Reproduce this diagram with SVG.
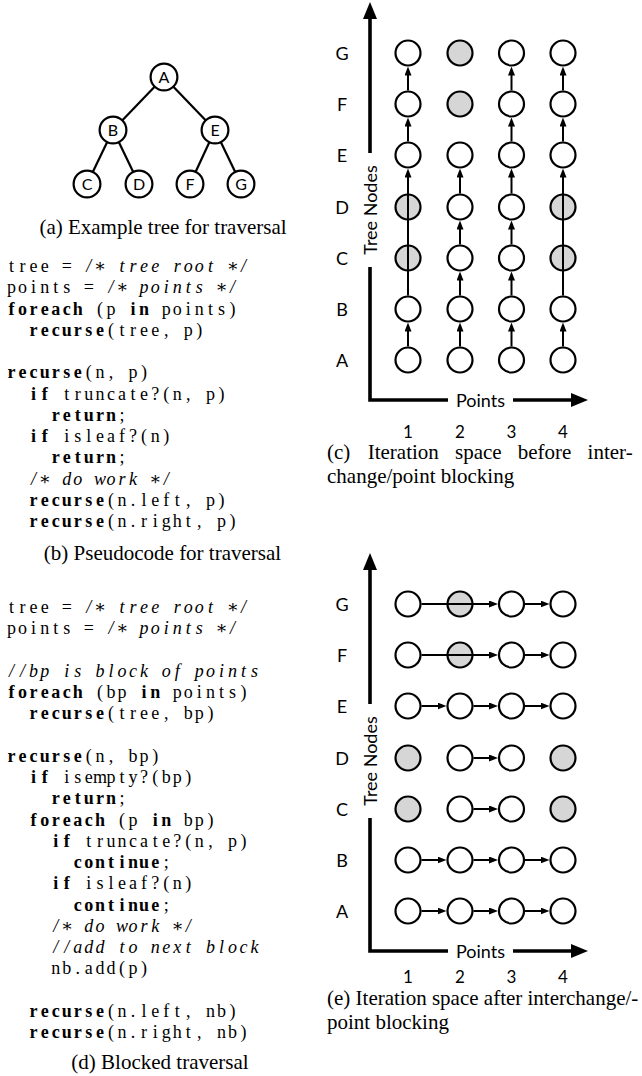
<svg xmlns="http://www.w3.org/2000/svg" width="642" height="1076" viewBox="0 0 642 1076">
<style>
.cap{font-family:"Liberation Serif","Times New Roman",serif;font-size:21px;fill:#000}
.mid{text-anchor:middle}
.code{font-family:"Liberation Serif","DejaVu Serif",serif;font-size:18px;fill:#000;text-anchor:middle}
.kw{font-weight:bold}
.cm{font-style:italic}
.lbl{font-family:Lato,"Liberation Sans",sans-serif;font-size:18px;fill:#000;text-anchor:middle}
.num{font-size:17px}
.tn circle{fill:#fff;stroke:#000;stroke-width:2.2}
.tn text{font-family:Lato,"Liberation Sans",sans-serif;font-size:16px;fill:#000;text-anchor:middle}
.pt{fill:#fff;stroke:#000;stroke-width:2.2}
.skip{fill:#d6d6d6}
.edge{stroke:#000;stroke-width:2.2}
.step{stroke:#000;stroke-width:2;fill:none;marker-end:url(#tip)}
.axis{stroke:#000;stroke-width:3.6;fill:none}
.axarrow{marker-end:url(#bigtip)}
</style>
<defs>
<marker id="tip" markerUnits="userSpaceOnUse" markerWidth="9" markerHeight="7" refX="5" refY="3.5" orient="auto">
<path d="M0,0 L9,3.5 L0,7 z" fill="#000"/>
</marker>
<marker id="bigtip" markerUnits="userSpaceOnUse" markerWidth="17" markerHeight="14" refX="11" refY="7" orient="auto">
<path d="M0,0 L17,7 L0,14 z" fill="#000"/>
</marker>
</defs>

<!-- (a) example tree -->
<g id="tree-edges">
<line class="edge" x1="164" y1="77" x2="113" y2="130"/>
<line class="edge" x1="164" y1="77" x2="215" y2="130"/>
<line class="edge" x1="113" y1="130" x2="87" y2="184"/>
<line class="edge" x1="113" y1="130" x2="139" y2="184"/>
<line class="edge" x1="215" y1="130" x2="190" y2="184"/>
<line class="edge" x1="215" y1="130" x2="241" y2="184"/>
</g>
<g id="tree-A" class="tn"><circle cx="164" cy="77" r="13.4"/><text x="164" y="82.5">A</text></g>
<g id="tree-B" class="tn"><circle cx="113" cy="130" r="13.4"/><text x="113" y="135.5">B</text></g>
<g id="tree-E" class="tn"><circle cx="215" cy="130" r="13.4"/><text x="215" y="135.5">E</text></g>
<g id="tree-C" class="tn"><circle cx="87" cy="184" r="13.4"/><text x="87" y="189.5">C</text></g>
<g id="tree-D" class="tn"><circle cx="139" cy="184" r="13.4"/><text x="139" y="189.5">D</text></g>
<g id="tree-F" class="tn"><circle cx="190" cy="184" r="13.4"/><text x="190" y="189.5">F</text></g>
<g id="tree-G" class="tn"><circle cx="241" cy="184" r="13.4"/><text x="241" y="189.5">G</text></g>
<text class="cap mid" x="163" y="233.5">(a) Example tree for traversal</text>

<!-- (b) pseudocode, fixed-width columns -->
<g id="code-b">
<text class="code" y="272" x="11.5 22.55 33.6 44.65 55.7 66.75 77.8 88.85 99.9 110.95 122 133.05 144.1 155.15 166.2 177.25 188.3 199.35 210.4 221.45 232.5 243.55 254.6">tree = <tspan class="cm">/∗ tree root ∗/</tspan></text>
<text class="code" y="293.25" x="11.5 22.55 33.6 44.65 55.7 66.75 77.8 88.85 99.9 110.95 122 133.05 144.1 155.15 166.2 177.25 188.3 199.35 210.4 221.45 232.5 243.55 254.6">points = <tspan class="cm">/∗ points ∗/</tspan></text>
<text class="code" y="314.5" x="11.5 22.55 33.6 44.65 55.7 66.75 77.8 88.85 99.9 110.95 122 133.05 144.1 155.15 166.2 177.25 188.3 199.35 210.4 221.45 232.5 243.55 254.6"><tspan class="kw">foreach</tspan> (p <tspan class="kw">in</tspan> points)</text>
<text class="code" y="335.75" x="33.6 44.65 55.7 66.75 77.8 88.85 99.9 110.95 122 133.05 144.1 155.15 166.2 177.25 188.3 199.35 210.4 221.45 232.5 243.55 254.6"><tspan class="kw">recurse</tspan>(tree, p)</text>
<text class="code" y="378.25" x="11.5 22.55 33.6 44.65 55.7 66.75 77.8 88.85 99.9 110.95 122 133.05 144.1 155.15 166.2 177.25 188.3 199.35 210.4 221.45 232.5 243.55 254.6"><tspan class="kw">recurse</tspan>(n, p)</text>
<text class="code" y="399.5" x="33.6 44.65 55.7 66.75 77.8 88.85 99.9 110.95 122 133.05 144.1 155.15 166.2 177.25 188.3 199.35 210.4 221.45 232.5 243.55 254.6"><tspan class="kw">if</tspan> truncate?(n, p)</text>
<text class="code" y="420.75" x="55.7 66.75 77.8 88.85 99.9 110.95 122 133.05 144.1"><tspan class="kw">return</tspan>;</text>
<text class="code" y="442" x="33.6 44.65 55.7 66.75 77.8 88.85 99.9 110.95 122 133.05 144.1 155.15 166.2 177.25 188.3"><tspan class="kw">if</tspan> isleaf?(n)</text>
<text class="code" y="463.25" x="55.7 66.75 77.8 88.85 99.9 110.95 122 133.05 144.1"><tspan class="kw">return</tspan>;</text>
<text class="code cm" y="484.5" x="33.6 44.65 55.7 66.75 77.8 88.85 99.9 110.95 122 133.05 144.1 155.15 166.2 177.25 188.3">/∗ do work ∗/</text>
<text class="code" y="505.75" x="33.6 44.65 55.7 66.75 77.8 88.85 99.9 110.95 122 133.05 144.1 155.15 166.2 177.25 188.3 199.35 210.4 221.45 232.5 243.55 254.6"><tspan class="kw">recurse</tspan>(n.left, p)</text>
<text class="code" y="527" x="33.6 44.65 55.7 66.75 77.8 88.85 99.9 110.95 122 133.05 144.1 155.15 166.2 177.25 188.3 199.35 210.4 221.45 232.5 243.55 254.6"><tspan class="kw">recurse</tspan>(n.right, p)</text>
</g>
<text class="cap mid" x="162.5" y="559.5">(b) Pseudocode for traversal</text>

<!-- (d) blocked traversal -->
<g id="code-d">
<text class="code" y="613" x="11.5 22.55 33.6 44.65 55.7 66.75 77.8 88.85 99.9 110.95 122 133.05 144.1 155.15 166.2 177.25 188.3 199.35 210.4 221.45 232.5 243.55 254.6">tree = <tspan class="cm">/∗ tree root ∗/</tspan></text>
<text class="code" y="634.25" x="11.5 22.55 33.6 44.65 55.7 66.75 77.8 88.85 99.9 110.95 122 133.05 144.1 155.15 166.2 177.25 188.3 199.35 210.4 221.45 232.5 243.55 254.6">points = <tspan class="cm">/∗ points ∗/</tspan></text>
<text class="code cm" y="676.75" x="11.5 22.55 33.6 44.65 55.7 66.75 77.8 88.85 99.9 110.95 122 133.05 144.1 155.15 166.2 177.25 188.3 199.35 210.4 221.45 232.5 243.55 254.6">//bp is block of points</text>
<text class="code" y="698" x="11.5 22.55 33.6 44.65 55.7 66.75 77.8 88.85 99.9 110.95 122 133.05 144.1 155.15 166.2 177.25 188.3 199.35 210.4 221.45 232.5 243.55 254.6"><tspan class="kw">foreach</tspan> (bp <tspan class="kw">in</tspan> points)</text>
<text class="code" y="719.25" x="33.6 44.65 55.7 66.75 77.8 88.85 99.9 110.95 122 133.05 144.1 155.15 166.2 177.25 188.3 199.35 210.4 221.45 232.5 243.55 254.6"><tspan class="kw">recurse</tspan>(tree, bp)</text>
<text class="code" y="761.75" x="11.5 22.55 33.6 44.65 55.7 66.75 77.8 88.85 99.9 110.95 122 133.05 144.1 155.15 166.2 177.25 188.3 199.35 210.4 221.45 232.5 243.55 254.6"><tspan class="kw">recurse</tspan>(n, bp)</text>
<text class="code" y="783" x="33.6 44.65 55.7 66.75 77.8 88.85 99.9 110.95 122 133.05 144.1 155.15 166.2 177.25 188.3 199.35 210.4 221.45 232.5 243.55 254.6"><tspan class="kw">if</tspan> isempty?(bp)</text>
<text class="code" y="804.25" x="55.7 66.75 77.8 88.85 99.9 110.95 122 133.05 144.1"><tspan class="kw">return</tspan>;</text>
<text class="code" y="825.5" x="33.6 44.65 55.7 66.75 77.8 88.85 99.9 110.95 122 133.05 144.1 155.15 166.2 177.25 188.3 199.35 210.4 221.45 232.5 243.55 254.6"><tspan class="kw">foreach</tspan> (p <tspan class="kw">in</tspan> bp)</text>
<text class="code" y="846.75" x="55.7 66.75 77.8 88.85 99.9 110.95 122 133.05 144.1 155.15 166.2 177.25 188.3 199.35 210.4 221.45 232.5 243.55 254.6"><tspan class="kw">if</tspan> truncate?(n, p)</text>
<text class="code" y="868" x="77.8 88.85 99.9 110.95 122 133.05 144.1 155.15 166.2 177.25"><tspan class="kw">continue</tspan>;</text>
<text class="code" y="889.25" x="55.7 66.75 77.8 88.85 99.9 110.95 122 133.05 144.1 155.15 166.2 177.25 188.3 199.35 210.4"><tspan class="kw">if</tspan> isleaf?(n)</text>
<text class="code" y="910.5" x="77.8 88.85 99.9 110.95 122 133.05 144.1 155.15 166.2 177.25"><tspan class="kw">continue</tspan>;</text>
<text class="code cm" y="931.75" x="55.7 66.75 77.8 88.85 99.9 110.95 122 133.05 144.1 155.15 166.2 177.25 188.3 199.35 210.4">/∗ do work ∗/</text>
<text class="code cm" y="953" x="55.7 66.75 77.8 88.85 99.9 110.95 122 133.05 144.1 155.15 166.2 177.25 188.3 199.35 210.4 221.45 232.5 243.55 254.6">//add to next block</text>
<text class="code" y="974.25" x="55.7 66.75 77.8 88.85 99.9 110.95 122 133.05 144.1 155.15 166.2">nb.add(p)</text>
<text class="code" y="1016.75" x="33.6 44.65 55.7 66.75 77.8 88.85 99.9 110.95 122 133.05 144.1 155.15 166.2 177.25 188.3 199.35 210.4 221.45 232.5 243.55 254.6"><tspan class="kw">recurse</tspan>(n.left, nb)</text>
<text class="code" y="1038" x="33.6 44.65 55.7 66.75 77.8 88.85 99.9 110.95 122 133.05 144.1 155.15 166.2 177.25 188.3 199.35 210.4 221.45 232.5 243.55 254.6"><tspan class="kw">recurse</tspan>(n.right, nb)</text>
</g>
<text class="cap mid" x="160" y="1069">(d) Blocked traversal</text>

<!-- (c) iteration space before interchange -->
<g id="axes-c">
<path class="axis axarrow" d="M370 153 V8"/>
<path class="axis" d="M370 267 V400 H448"/>
<path class="axis axarrow" d="M513 400 H582"/>
<text class="lbl" transform="translate(376.5,210) rotate(-90)">Tree Nodes</text>
<text class="lbl" x="480.5" y="406.5">Points</text>
<text class="lbl" x="342" y="59.5">G</text>
<text class="lbl" x="342" y="110.5">F</text>
<text class="lbl" x="342" y="161.5">E</text>
<text class="lbl" x="342" y="213.5">D</text>
<text class="lbl" x="342" y="264.5">C</text>
<text class="lbl" x="342" y="315.5">B</text>
<text class="lbl" x="342" y="366.5">A</text>
<text class="lbl num" x="408" y="438">1</text>
<text class="lbl num" x="460" y="438">2</text>
<text class="lbl num" x="511.5" y="438">3</text>
<text class="lbl num" x="563" y="438">4</text>
</g>
<g id="grid-c">
<g id="c-G1"><circle class="pt" cx="408" cy="53" r="12.5"/></g>
<g id="c-G2"><circle class="pt skip" cx="460" cy="53" r="12.5"/></g>
<g id="c-G3"><circle class="pt" cx="511.5" cy="53" r="12.5"/></g>
<g id="c-G4"><circle class="pt" cx="563" cy="53" r="12.5"/></g>
<g id="c-F1"><circle class="pt" cx="408" cy="104" r="12.5"/></g>
<g id="c-F2"><circle class="pt skip" cx="460" cy="104" r="12.5"/></g>
<g id="c-F3"><circle class="pt" cx="511.5" cy="104" r="12.5"/></g>
<g id="c-F4"><circle class="pt" cx="563" cy="104" r="12.5"/></g>
<g id="c-E1"><circle class="pt" cx="408" cy="155" r="12.5"/></g>
<g id="c-E2"><circle class="pt" cx="460" cy="155" r="12.5"/></g>
<g id="c-E3"><circle class="pt" cx="511.5" cy="155" r="12.5"/></g>
<g id="c-E4"><circle class="pt" cx="563" cy="155" r="12.5"/></g>
<g id="c-D1"><circle class="pt skip" cx="408" cy="207" r="12.5"/></g>
<g id="c-D2"><circle class="pt" cx="460" cy="207" r="12.5"/></g>
<g id="c-D3"><circle class="pt" cx="511.5" cy="207" r="12.5"/></g>
<g id="c-D4"><circle class="pt skip" cx="563" cy="207" r="12.5"/></g>
<g id="c-C1"><circle class="pt skip" cx="408" cy="258" r="12.5"/></g>
<g id="c-C2"><circle class="pt" cx="460" cy="258" r="12.5"/></g>
<g id="c-C3"><circle class="pt" cx="511.5" cy="258" r="12.5"/></g>
<g id="c-C4"><circle class="pt skip" cx="563" cy="258" r="12.5"/></g>
<g id="c-B1"><circle class="pt" cx="408" cy="309" r="12.5"/></g>
<g id="c-B2"><circle class="pt" cx="460" cy="309" r="12.5"/></g>
<g id="c-B3"><circle class="pt" cx="511.5" cy="309" r="12.5"/></g>
<g id="c-B4"><circle class="pt" cx="563" cy="309" r="12.5"/></g>
<g id="c-A1"><circle class="pt" cx="408" cy="360" r="12.5"/></g>
<g id="c-A2"><circle class="pt" cx="460" cy="360" r="12.5"/></g>
<g id="c-A3"><circle class="pt" cx="511.5" cy="360" r="12.5"/></g>
<g id="c-A4"><circle class="pt" cx="563" cy="360" r="12.5"/></g>
</g>
<g id="steps-c">
<!-- point 1: C and D truncated -->
<path class="step" d="M408 346.5 V326.5"/>
<path class="step" d="M408 295.5 V172.5"/>
<path class="step" d="M408 141.5 V121.5"/>
<path class="step" d="M408 90.5 V70.5"/>
<!-- point 2: stops after E -->
<path class="step" d="M460 346.5 V326.5"/>
<path class="step" d="M460 295.5 V275.5"/>
<path class="step" d="M460 244.5 V224.5"/>
<path class="step" d="M460 193.5 V172.5"/>
<!-- point 3: full walk -->
<path class="step" d="M511.5 346.5 V326.5"/>
<path class="step" d="M511.5 295.5 V275.5"/>
<path class="step" d="M511.5 244.5 V224.5"/>
<path class="step" d="M511.5 193.5 V172.5"/>
<path class="step" d="M511.5 141.5 V121.5"/>
<path class="step" d="M511.5 90.5 V70.5"/>
<!-- point 4: C and D truncated -->
<path class="step" d="M563 346.5 V326.5"/>
<path class="step" d="M563 295.5 V172.5"/>
<path class="step" d="M563 141.5 V121.5"/>
<path class="step" d="M563 90.5 V70.5"/>
</g>
<text class="cap" y="459"><tspan x="327">(c)</tspan><tspan x="367.7">Iteration</tspan><tspan x="455">space</tspan><tspan x="517.8">before</tspan><tspan x="587.6">inter-</tspan></text>
<text class="cap" x="327" y="483">change/point blocking</text>

<!-- (e) iteration space after interchange / point blocking -->
<g id="axes-e">
<path class="axis axarrow" d="M370 704 V559"/>
<path class="axis" d="M370 818 V951 H448"/>
<path class="axis axarrow" d="M513 951 H582"/>
<text class="lbl" transform="translate(376.5,761) rotate(-90)">Tree Nodes</text>
<text class="lbl" x="480.5" y="957.5">Points</text>
<text class="lbl" x="342" y="610.5">G</text>
<text class="lbl" x="342" y="661.5">F</text>
<text class="lbl" x="342" y="712.5">E</text>
<text class="lbl" x="342" y="764.5">D</text>
<text class="lbl" x="342" y="815.5">C</text>
<text class="lbl" x="342" y="866.5">B</text>
<text class="lbl" x="342" y="917.5">A</text>
<text class="lbl num" x="408" y="983">1</text>
<text class="lbl num" x="460" y="983">2</text>
<text class="lbl num" x="511.5" y="983">3</text>
<text class="lbl num" x="563" y="983">4</text>
</g>
<g id="grid-e">
<g id="e-G1"><circle class="pt" cx="408" cy="604" r="12.5"/></g>
<g id="e-G2"><circle class="pt skip" cx="460" cy="604" r="12.5"/></g>
<g id="e-G3"><circle class="pt" cx="511.5" cy="604" r="12.5"/></g>
<g id="e-G4"><circle class="pt" cx="563" cy="604" r="12.5"/></g>
<g id="e-F1"><circle class="pt" cx="408" cy="655" r="12.5"/></g>
<g id="e-F2"><circle class="pt skip" cx="460" cy="655" r="12.5"/></g>
<g id="e-F3"><circle class="pt" cx="511.5" cy="655" r="12.5"/></g>
<g id="e-F4"><circle class="pt" cx="563" cy="655" r="12.5"/></g>
<g id="e-E1"><circle class="pt" cx="408" cy="706" r="12.5"/></g>
<g id="e-E2"><circle class="pt" cx="460" cy="706" r="12.5"/></g>
<g id="e-E3"><circle class="pt" cx="511.5" cy="706" r="12.5"/></g>
<g id="e-E4"><circle class="pt" cx="563" cy="706" r="12.5"/></g>
<g id="e-D1"><circle class="pt skip" cx="408" cy="758" r="12.5"/></g>
<g id="e-D2"><circle class="pt" cx="460" cy="758" r="12.5"/></g>
<g id="e-D3"><circle class="pt" cx="511.5" cy="758" r="12.5"/></g>
<g id="e-D4"><circle class="pt skip" cx="563" cy="758" r="12.5"/></g>
<g id="e-C1"><circle class="pt skip" cx="408" cy="809" r="12.5"/></g>
<g id="e-C2"><circle class="pt" cx="460" cy="809" r="12.5"/></g>
<g id="e-C3"><circle class="pt" cx="511.5" cy="809" r="12.5"/></g>
<g id="e-C4"><circle class="pt skip" cx="563" cy="809" r="12.5"/></g>
<g id="e-B1"><circle class="pt" cx="408" cy="860" r="12.5"/></g>
<g id="e-B2"><circle class="pt" cx="460" cy="860" r="12.5"/></g>
<g id="e-B3"><circle class="pt" cx="511.5" cy="860" r="12.5"/></g>
<g id="e-B4"><circle class="pt" cx="563" cy="860" r="12.5"/></g>
<g id="e-A1"><circle class="pt" cx="408" cy="911" r="12.5"/></g>
<g id="e-A2"><circle class="pt" cx="460" cy="911" r="12.5"/></g>
<g id="e-A3"><circle class="pt" cx="511.5" cy="911" r="12.5"/></g>
<g id="e-A4"><circle class="pt" cx="563" cy="911" r="12.5"/></g>
</g>
<g id="steps-e">
<path class="step" d="M421.5 604 H494"/>
<path class="step" d="M525 604 H545.5"/>
<path class="step" d="M421.5 655 H494"/>
<path class="step" d="M525 655 H545.5"/>
<path class="step" d="M421.5 706 H442.5"/>
<path class="step" d="M473.5 706 H494"/>
<path class="step" d="M525 706 H545.5"/>
<path class="step" d="M473.5 758 H494"/>
<path class="step" d="M473.5 809 H494"/>
<path class="step" d="M421.5 860 H442.5"/>
<path class="step" d="M473.5 860 H494"/>
<path class="step" d="M525 860 H545.5"/>
<path class="step" d="M421.5 911 H442.5"/>
<path class="step" d="M473.5 911 H494"/>
<path class="step" d="M525 911 H545.5"/>
</g>
<text class="cap" x="327" y="1005">(e) Iteration space after interchange/-</text>
<text class="cap" x="327" y="1029">point blocking</text>
</svg>
